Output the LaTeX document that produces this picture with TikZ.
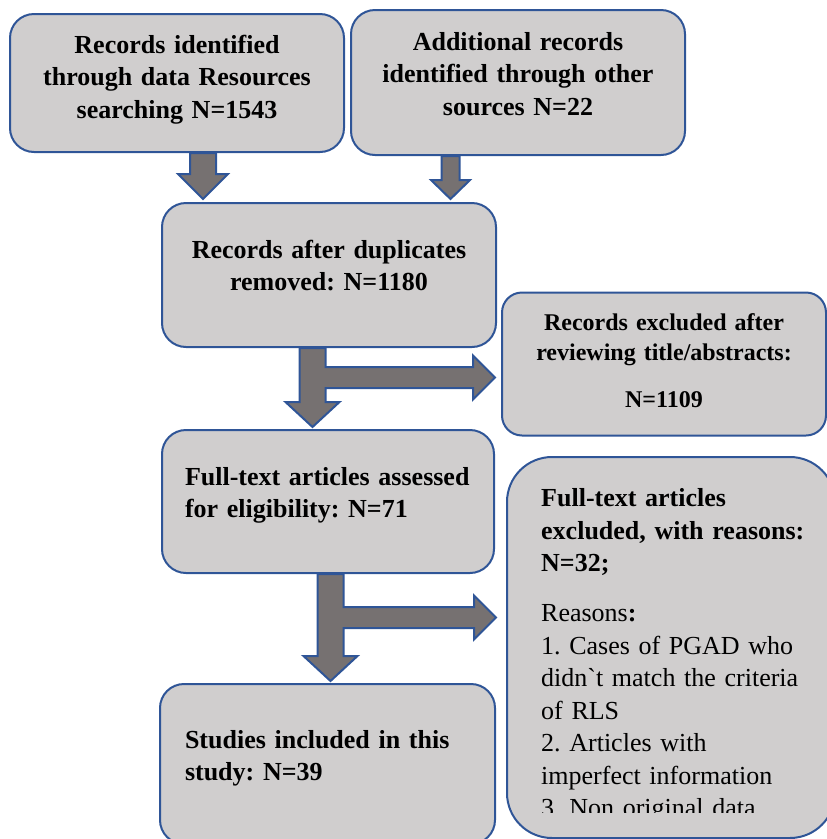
\documentclass[tikz,border=0pt]{standalone}
\usepackage{fontspec}
\setmainfont{Liberation Serif}
\usepackage{xcolor}
\usetikzlibrary{calc}

\definecolor{boxgray}{HTML}{D0CECE}
\definecolor{boxblue}{HTML}{2F5597}
\definecolor{arrowgray}{HTML}{767171}

\tikzset{
  box/.style={draw=boxblue, line width=2pt, fill=boxgray, rounded corners=24pt,
    inner sep=0pt, align=center, text width=310pt, text height=20pt,
    font=\bfseries\fontsize{26}{32.5}\selectfont},
  leftbox/.style={box, align=left},
  blockarrow/.style={draw=boxblue, line width=2pt, fill=arrowgray, line join=miter},
}

% block arrow straight down: start, tip, shaft half width, head half width, head length
\newcommand{\blockdown}[5]{%
  \path[blockarrow] let \p1=(#1), \p2=(#2) in
    (\x2-#3,\y1) -- (\x2-#3,\y2+#5) -- (\x2-#4,\y2+#5) -- (\p2)
    -- (\x2+#4,\y2+#5) -- (\x2+#3,\y2+#5) -- (\x2+#3,\y1) -- cycle;}
% down arrow with a branch to the right: start, lower tip, right tip
\newcommand{\blocktee}[3]{%
  \path[blockarrow] let \p1=(#1), \p2=(#2), \p3=(#3) in
    (\x2-13pt,\y1) -- (\x2-13pt,\y2+25pt) -- (\x2-27pt,\y2+25pt) -- (\p2)
    -- (\x2+27pt,\y2+25pt) -- (\x2+13pt,\y2+25pt) -- (\x2+13pt,\y3-10.5pt)
    -- (\x3-22pt,\y3-10.5pt) -- (\x3-22pt,\y3-22pt) -- (\p3)
    -- (\x3-22pt,\y3+22pt) -- (\x3-22pt,\y3+10.5pt) -- (\x2+13pt,\y3+10.5pt)
    -- (\x2+13pt,\y1) -- cycle;}

\begin{document}
\frenchspacing
\begin{tikzpicture}[x=1pt, y=-1pt]
\useasboundingbox (0,0) rectangle (827,839);

% boxes
\node[box, minimum width=334pt, minimum height=138pt, text depth=80pt] (src1) at (177,83)
  {Records identified\\through data Resources\\searching N=1543};
\node[box, minimum width=334pt, minimum height=145pt, text depth=85pt] (src2) at (518,82.5)
  {Additional records\\identified through other\\sources N=22};
\node[box, minimum width=334pt, minimum height=144pt, text depth=54pt] (dedup) at (329,275)
  {Records after duplicates\\removed: N=1180};
\node[box, minimum width=324pt, minimum height=143pt, text depth=88pt, rounded corners=20pt,
  text width=300pt, font=\bfseries\fontsize{24}{30}\selectfont] (excl1) at (664,364)
  {Records excluded after\\reviewing title/abstracts:\\[17pt]N=1109};
\node[leftbox, minimum width=332pt, minimum height=143pt, text depth=53pt,
  inner xsep=23pt, text width=286pt] (elig) at (328,501.5)
  {Full-text articles assessed\\for eligibility: N=71};
\node[leftbox, minimum width=335pt, minimum height=160pt, text depth=52pt,
  inner xsep=25pt, text width=285pt] (incl) at (327.5,764)
  {Studies included in this\\study: N=39};
\node[box, minimum width=328pt, minimum height=381pt, rounded corners=45pt] (excl2) at (671,647.5) {};
\begin{scope}
  \clip (500,450) rectangle (840,812);
  \node[anchor=base west, align=left, inner sep=0pt, text width=290pt,
    font=\fontsize{26}{32.5}\selectfont] (why) at (541,506.7)
    {\textbf{Full-text articles}\\\textbf{excluded, with reasons:}\\\textbf{N=32;}\\[17.5pt]
     Reasons\textbf{:}\\1. Cases of PGAD who\\didn\textasciigrave t match the criteria\\of RLS\\
     2. Articles with\\imperfect information\\3. Non original data};
\end{scope}

% arrows
\coordinate (tipA) at (203,199);
\coordinate (tipB) at (450.5,199);
\coordinate (tipC) at (312.5,427);
\coordinate (tipD) at (495,377.5);
\coordinate (tipE) at (330.5,681);
\coordinate (tipF) at (496,617.5);
\blockdown{src1.south -| tipA}{tipA}{13pt}{25pt}{25pt}
\blockdown{src2.south -| tipB}{tipB}{9pt}{19.5pt}{19pt}
\blocktee{dedup.south -| tipC}{tipC}{tipD}
\blocktee{elig.south -| tipE}{tipE}{tipF}
\end{tikzpicture}
\end{document}
